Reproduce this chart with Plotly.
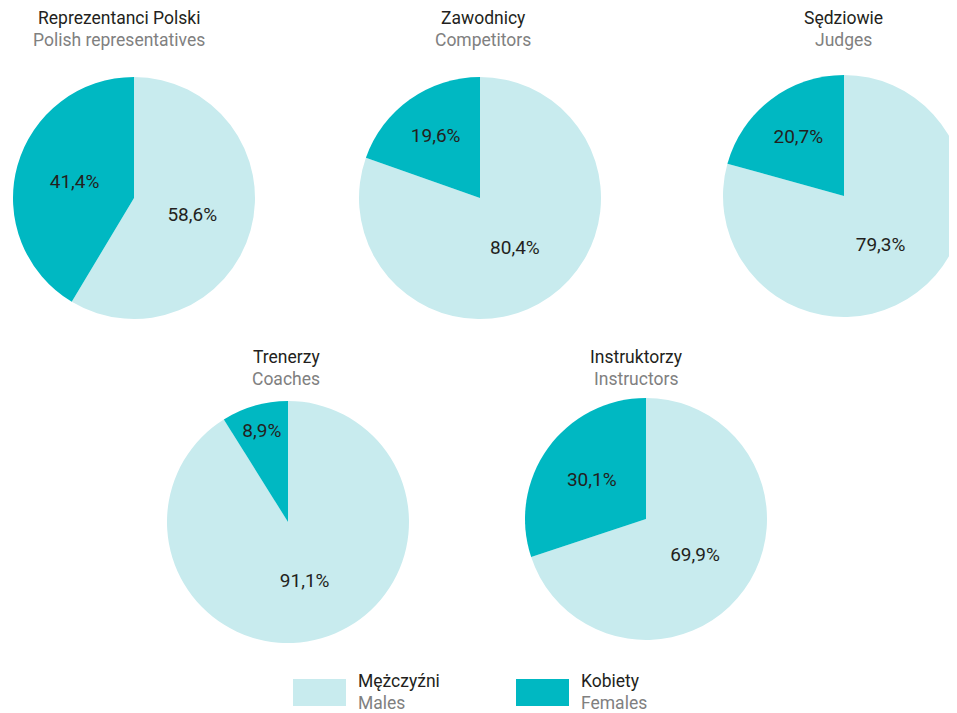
import plotly.graph_objects as go

# ---- data ----
groups_pl = ["Reprezentanci Polski", "Zawodnicy", "Sędziowie", "Trenerzy", "Instruktorzy"]
groups_en = ["Polish representatives", "Competitors", "Judges", "Coaches", "Instructors"]
series_pl = ["Mężczyźni", "Kobiety"]
series_en = ["Males", "Females"]
males = [58.6, 80.4, 79.3, 91.1, 69.9]
females = [41.4, 19.6, 20.7, 8.9, 30.1]

# ---- layout constants (window pixel coordinates) ----
W, H = 957, 713
OFF = 8  # page body margin
R = 121
centers = [(134, 198), (480, 198), (844, 196), (288, 522), (646, 519)]
title_pos = [(119, 18), (483, 18), (843, 18), (286, 357), (636, 357)]
sub_dy = 22
colors = ["#c8ebee", "#00b8c2"]
dark = "#231f20"
grey = "#808080"
FONT = "Roboto"
TITLE_SIZE = 17.5
LABEL_SIZE = 19


def px(x):
    return (x - OFF) / W


def py(y):
    return 1 - (y - OFF) / H


def fmt(v):
    return f"{v:.1f}".replace(".", ",") + "%"


fig = go.Figure()
for i in range(len(groups_pl)):
    cx, cy = centers[i]
    x0 = max(0.0, px(cx - R))
    x1 = min(1.0, px(cx + R))
    y0 = py(cy + R)
    y1 = py(cy - R)
    vals = [males[i], females[i]]
    fig.add_trace(go.Pie(
        labels=series_pl,
        values=vals,
        text=[fmt(v) for v in vals],
        texttemplate="%{text}",
        textposition="inside",
        insidetextorientation="horizontal",
        textfont=dict(family=FONT, size=LABEL_SIZE, color=dark),
        marker=dict(colors=colors, line=dict(width=0)),
        sort=False,
        direction="clockwise",
        rotation=0,
        domain=dict(x=[x0, x1], y=[y0, y1]),
        showlegend=False,
        hoverinfo="label+text",
    ))
    tx, ty = title_pos[i]
    fig.add_annotation(x=px(tx), y=py(ty), xref="paper", yref="paper",
                       text=groups_pl[i], showarrow=False,
                       font=dict(family=FONT, size=TITLE_SIZE, color=dark),
                       xanchor="center", yanchor="middle")
    fig.add_annotation(x=px(tx), y=py(ty + sub_dy), xref="paper", yref="paper",
                       text=groups_en[i], showarrow=False,
                       font=dict(family=FONT, size=TITLE_SIZE, color=grey),
                       xanchor="center", yanchor="middle")

# legend (manual)
leg_x = [293, 516]
for j in range(2):
    lx = leg_x[j]
    fig.add_shape(type="rect", xref="paper", yref="paper",
                  x0=px(lx), x1=px(lx + 53), y0=py(706), y1=py(679),
                  fillcolor=colors[j], line=dict(width=0))
    fig.add_annotation(x=px(lx + 63), y=py(681), xref="paper", yref="paper",
                       text=series_pl[j], showarrow=False, xanchor="left", yanchor="middle",
                       font=dict(family=FONT, size=TITLE_SIZE, color=dark))
    fig.add_annotation(x=px(lx + 63), y=py(703), xref="paper", yref="paper",
                       text=series_en[j], showarrow=False, xanchor="left", yanchor="middle",
                       font=dict(family=FONT, size=TITLE_SIZE, color=grey))

fig.update_layout(
    width=W, height=H,
    margin=dict(l=0, r=0, t=0, b=0),
    paper_bgcolor="white", plot_bgcolor="white",
    font=dict(family=FONT),
)

fig.write_html("out.html", config={"displayModeBar": False})
